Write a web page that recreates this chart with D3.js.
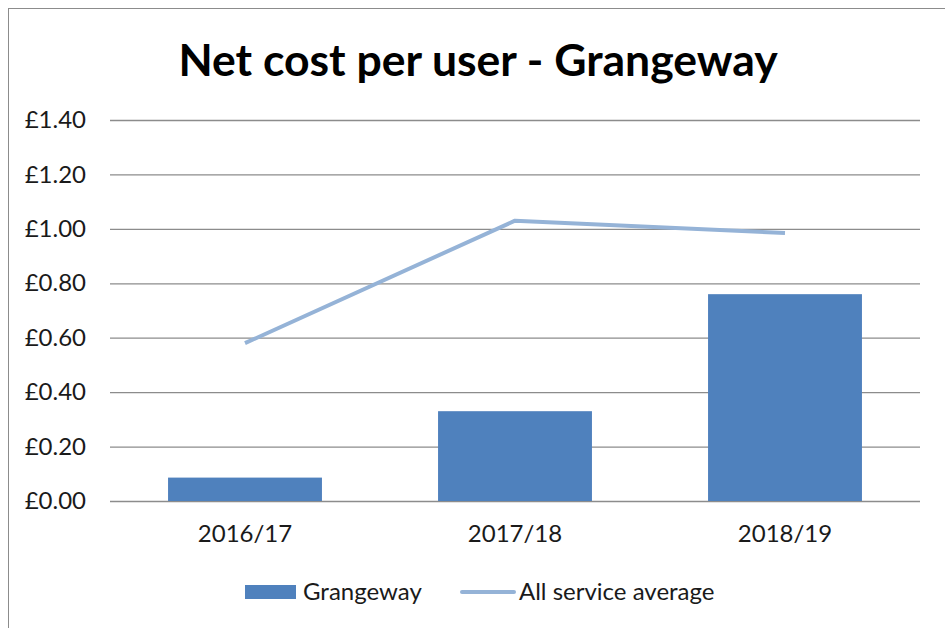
<!DOCTYPE html>
<html>
<head>
<meta charset="utf-8">
<script src="https://cdn.jsdelivr.net/npm/d3@7"></script>
<style>
  body { margin: 0; background: #fff; }
  svg { display: block; }
  svg text { font-family: Lato, "Open Sans", sans-serif; }
</style>
</head>
<body>
<div id="chart"></div>
<script>
// chart values
var years = ["2016/17", "2017/18", "2018/19"];
var grangeway = [0.086, 0.33, 0.76];
var serviceAverage = [0.58, 1.03, 0.985];
var yTicks = [0, 0.2, 0.4, 0.6, 0.8, 1.0, 1.2, 1.4];

var width = 945, height = 628;
var margin = {left: 110, right: 25, top: 120, bottom: 127};
var labelSize = "24px";

var svg = d3.select("#chart").append("svg")
    .attr("width", width)
    .attr("height", height);

// outer frame, only top and left sides show in the picture
svg.append("rect")
    .attr("x", 8.5)
    .attr("y", 8.5)
    .attr("width", width + 20)
    .attr("height", height + 20)
    .attr("fill", "none")
    .attr("stroke", "#8c8c8c")
    .attr("stroke-width", 1);

var x = d3.scaleBand()
    .domain(years)
    .range([margin.left, width - margin.right])
    .paddingInner(0.43)
    .paddingOuter(0.215);

var y = d3.scaleLinear()
    .domain([0, 1.4])
    .range([height - margin.bottom, margin.top]);

// gridlines + y labels
var yAxis = d3.axisLeft(y)
    .tickValues(yTicks)
    .tickSize(-(width - margin.right - margin.left))
    .tickPadding(24)
    .tickFormat(function(d){ return "£" + d.toFixed(2); });

var gy = svg.append("g")
    .attr("transform", "translate(" + margin.left + ",0)")
    .call(yAxis);
gy.select(".domain").remove();
gy.selectAll(".tick line").attr("stroke", "#8c8c8c").attr("stroke-width", 1.3);
gy.selectAll(".tick text")
    .attr("fill", "#1a1a1a")
    .style("font-size", labelSize);

// x labels
var xAxis = d3.axisBottom(x).tickSize(0).tickPadding(24);
var gx = svg.append("g")
    .attr("transform", "translate(0," + (height - margin.bottom) + ")")
    .call(xAxis);
gx.select(".domain").remove();
gx.selectAll(".tick text")
    .attr("fill", "#1a1a1a")
    .style("font-size", labelSize);

// bars
svg.append("g").selectAll("rect")
    .data(grangeway)
    .enter().append("rect")
    .attr("x", function(d, i){ return x(years[i]); })
    .attr("y", function(d){ return y(d); })
    .attr("width", x.bandwidth())
    .attr("height", function(d){ return y(0) - y(d); })
    .attr("fill", "#4f81bd");

// average line
var line = d3.line()
    .x(function(d, i){ return x(years[i]) + x.bandwidth() / 2; })
    .y(function(d){ return y(d); });

svg.append("path")
    .datum(serviceAverage)
    .attr("d", line)
    .attr("fill", "none")
    .attr("stroke", "#95b3d7")
    .attr("stroke-width", 4)
    .attr("stroke-linejoin", "round");

// title
svg.append("text")
    .attr("x", 478)
    .attr("y", 76)
    .attr("text-anchor", "middle")
    .style("font-size", "44.5px")
    .style("font-weight", "bold")
    .attr("fill", "#000")
    .text("Net cost per user - Grangeway");

// legend
var legend = svg.append("g");
legend.append("rect")
    .attr("x", 245).attr("y", 585)
    .attr("width", 51).attr("height", 14)
    .attr("fill", "#4f81bd");
legend.append("text")
    .attr("x", 303).attr("y", 600)
    .style("font-size", labelSize)
    .attr("fill", "#1a1a1a")
    .text("Grangeway");
legend.append("line")
    .attr("x1", 462).attr("x2", 514)
    .attr("y1", 592).attr("y2", 592)
    .attr("stroke", "#95b3d7")
    .attr("stroke-width", 4)
    .attr("stroke-linecap", "round");
legend.append("text")
    .attr("x", 519).attr("y", 600)
    .style("font-size", labelSize)
    .attr("fill", "#1a1a1a")
    .text("All service average");
</script>
</body>
</html>
